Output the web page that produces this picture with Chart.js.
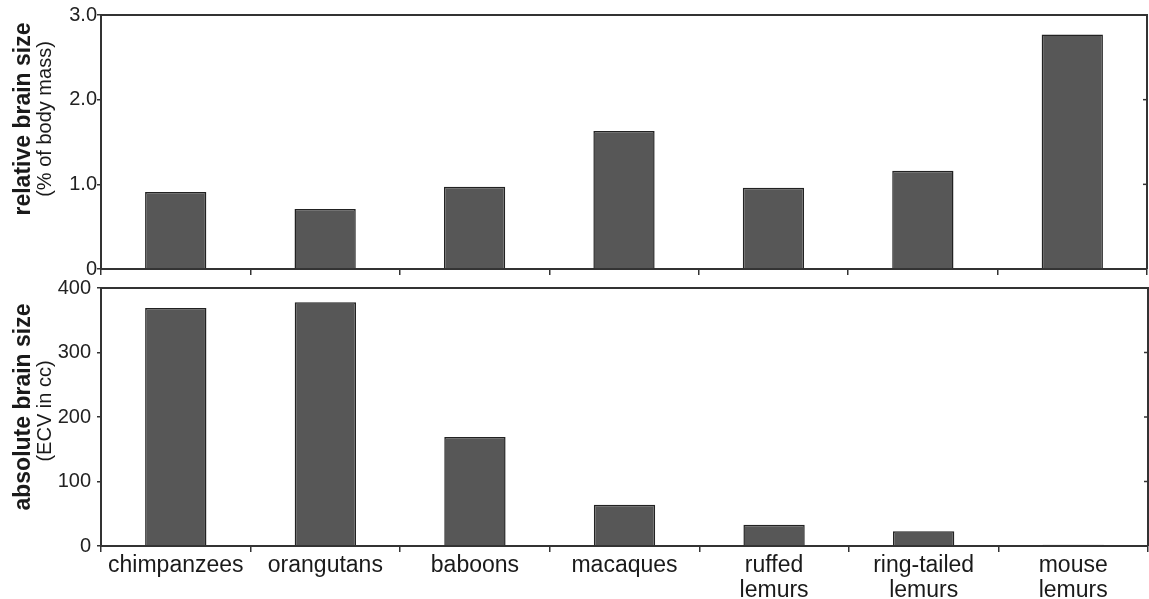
<!DOCTYPE html>
<html>
<head>
<meta charset="utf-8">
<script src="https://cdn.jsdelivr.net/npm/chart.js@4/dist/chart.umd.min.js"></script>
<style>
  html, body { margin: 0; padding: 0; background: #fff; }
  body { width: 1149px; height: 599px; position: relative; overflow: hidden; }
  .panel { position: absolute; left: 0; width: 1149px; }
  #top { top: 0; height: 287px; }
  #bottom { top: 270px; height: 329px; }
</style>
</head>
<body>
<div class="panel" id="top"><canvas id="relChart"></canvas></div>
<div class="panel" id="bottom"><canvas id="absChart"></canvas></div>
<script>
const species = ['chimpanzees', 'orangutans', 'baboons', 'macaques',
  ['ruffed', 'lemurs'], ['ring-tailed', 'lemurs'], ['mouse', 'lemurs']];
const relativeSize = [0.91, 0.71, 0.97, 1.63, 0.96, 1.16, 2.77];
const absoluteSize = [369, 378, 169, 64, 33, 23, 2];
const relTickLabels = ['0', '1.0', '2.0', '3.0'];
const absTickLabels = ['0', '100', '200', '300', '400'];

const FONT = 'Arial, "Liberation Sans", Helvetica, sans-serif';
const INK = '#333';

// frame (top + right edges), inward ticks on the right, two-line y titles
const framePlugin = {
  id: 'frame',
  afterDraw(chart, args, opts) {
    const { ctx, chartArea: a } = chart;
    const y = chart.scales.y;
    ctx.save();
    ctx.strokeStyle = INK;
    ctx.lineWidth = 2;
    ctx.beginPath();
    ctx.moveTo(a.left, a.top);
    ctx.lineTo(a.right, a.top);
    ctx.lineTo(a.right, a.bottom);
    ctx.stroke();
    ctx.lineWidth = 1.5;
    y.ticks.forEach(t => {
      const py = y.getPixelForValue(t.value);
      ctx.beginPath();
      ctx.moveTo(a.right, py);
      ctx.lineTo(a.right - 4, py);
      ctx.stroke();
    });
    ctx.fillStyle = '#1a1a1a';
    ctx.textAlign = 'center';
    ctx.textBaseline = 'middle';
    ctx.save();
    ctx.translate(24, a.top + opts.offset);
    ctx.rotate(-Math.PI / 2);
    ctx.font = 'bold 23px ' + FONT;
    ctx.fillText(opts.title, 0, 0);
    ctx.restore();
    ctx.save();
    ctx.translate(45, a.top + opts.offset + opts.subShift);
    ctx.rotate(-Math.PI / 2);
    ctx.font = '20px ' + FONT;
    ctx.fillText(opts.sub, 0, 0);
    ctx.restore();
    ctx.restore();
  }
};

function makeChart(id, values, max, step, tickLabels, cfg) {
  return new Chart(document.getElementById(id), {
    type: 'bar',
    data: {
      labels: species,
      datasets: [{
        data: values,
        backgroundColor: '#575757',
        borderColor: '#222',
        borderWidth: 1.5,
        barPercentage: 0.41,
        categoryPercentage: 1
      }]
    },
    options: {
      responsive: true,
      maintainAspectRatio: false,
      animation: false,
      layout: { padding: { left: 0, right: cfg.padRight, top: cfg.padTop, bottom: 0 } },
      plugins: {
        legend: { display: false },
        tooltip: { enabled: false },
        frame: cfg.titles
      },
      scales: {
        x: {
          grid: { offset: true, drawOnChartArea: false, drawTicks: true, tickLength: 6, color: INK, lineWidth: 1.5 },
          border: { display: true, color: INK, width: 2 },
          ticks: {
            display: cfg.showLabels,
            color: '#1a1a1a',
            padding: 1,
            maxRotation: 0,
            autoSkip: false,
            font: { family: FONT, size: 23, lineHeight: 1.08 }
          },
          afterFit: s => { s.height = cfg.xHeight; }
        },
        y: {
          min: 0,
          max: max,
          grid: { drawOnChartArea: false, drawTicks: true, tickLength: 4, color: INK, lineWidth: 1.5 },
          border: { display: true, color: INK, width: 2 },
          ticks: {
            stepSize: step,
            color: '#222',
            padding: cfg.tickPad,
            font: { family: FONT, size: 20 },
            callback: (v, i) => tickLabels[i]
          },
          afterFit: s => { s.width = 101; }
        }
      }
    },
    plugins: [framePlugin]
  });
}

makeChart('relChart', relativeSize, 3, 1, relTickLabels, {
  padTop: 15, padRight: 2, xHeight: 18, showLabels: false, tickPad: 0,
  titles: { title: 'relative brain size', sub: '(% of body mass)', offset: 104, subShift: 0 }
});

makeChart('absChart', absoluteSize, 400, 100, absTickLabels, {
  padTop: 18, padRight: 1, xHeight: 53, showLabels: true, tickPad: 6,
  titles: { title: 'absolute brain size', sub: '(ECV in cc)', offset: 119, subShift: 4 }
});
</script>
</body>
</html>
